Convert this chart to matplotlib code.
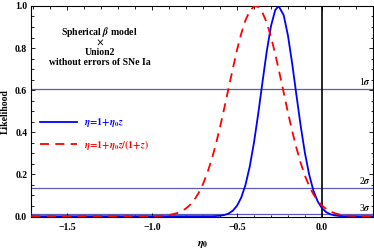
import matplotlib
matplotlib.use("Agg")
import matplotlib.pyplot as plt

plt.rcParams['font.family'] = ['Liberation Serif', 'DejaVu Serif']
plt.rcParams['font.weight'] = 'bold'
plt.rcParams['mathtext.fontset'] = 'stix'

# likelihood, eta = 1 + eta0 z
eta0_lin = [-1.71, -0.65, -0.625, -0.6, -0.575, -0.55, -0.525, -0.5, -0.475, -0.45,
            -0.425, -0.4, -0.375, -0.35, -0.325, -0.3, -0.275, -0.255, -0.225, -0.2,
            -0.175, -0.15, -0.125, -0.1, -0.075, -0.05, -0.025, 0.0, 0.025, 0.05,
            0.075, 0.1, 0.125, 0.15, 0.30]
like_lin = [0.0, 0.0004, 0.0011, 0.0026, 0.006, 0.0129, 0.0261, 0.0498, 0.0889, 0.149,
            0.236, 0.350, 0.487, 0.637, 0.783, 0.904, 0.980, 1.0, 0.956, 0.860,
            0.726, 0.576, 0.430, 0.301, 0.198, 0.122, 0.071, 0.0387, 0.0198, 0.0096,
            0.0043, 0.0018, 0.0007, 0.0003, 0.0]

# likelihood, eta = 1 + eta0 z/(1+z)
eta0_cpl = [-1.71, -1.0, -0.975, -0.95, -0.925, -0.9, -0.875, -0.85, -0.825, -0.8,
            -0.775, -0.75, -0.725, -0.7, -0.675, -0.65, -0.625, -0.6, -0.575, -0.55,
            -0.525, -0.5, -0.475, -0.45, -0.425, -0.4, -0.39, -0.375, -0.35, -0.325,
            -0.3, -0.275, -0.25, -0.225, -0.2, -0.175, -0.15, -0.125, -0.1, -0.075,
            -0.05, -0.025, 0.0, 0.025, 0.05, 0.075, 0.1, 0.125, 0.15, 0.175,
            0.2, 0.25, 0.30]
like_cpl = [0.0, 0.0007, 0.0013, 0.0022, 0.0037, 0.0062, 0.0101, 0.0160, 0.0248, 0.0375,
            0.0553, 0.0796, 0.112, 0.153, 0.205, 0.267, 0.340, 0.423, 0.513, 0.607,
            0.700, 0.790, 0.868, 0.932, 0.976, 0.998, 1.0, 0.996, 0.969, 0.921,
            0.854, 0.772, 0.682, 0.588, 0.494, 0.405, 0.325, 0.254, 0.193, 0.144,
            0.105, 0.0741, 0.0513, 0.0346, 0.0228, 0.0147, 0.0092, 0.0056, 0.0034, 0.0020,
            0.0011, 0.0003, 0.0]

sigma_levels = [0.6065, 0.1353, 0.0111]
sigma_labels = [r'1$\sigma$', r'2$\sigma$', r'3$\sigma$']

fig = plt.figure(figsize=(3.74, 2.49), dpi=100)
ax = fig.add_axes([0.084, 0.128, 0.913, 0.848])

for lev, lab in zip(sigma_levels, sigma_labels):
    ax.axhline(lev, color='#5c5cb8', lw=0.9, zorder=1)
    ax.annotate(lab, xy=(0.288, lev), xytext=(0, 1), textcoords='offset points',
                ha='right', va='bottom', fontsize=7, fontweight='normal')

ax.axvline(0.0, color='black', lw=1.2, zorder=2)

ax.plot(eta0_lin, like_lin, color='blue', lw=1.3, zorder=3,
        label=r'$\eta\!=\!1\!+\!\eta_0 z$')
ax.plot(eta0_cpl, like_cpl, color='red', lw=1.3, dashes=(5, 3.5), zorder=3,
        label=r'$\eta\!=\!1\!+\!\eta_0 z/(1\!+\!z)$')

leg = ax.legend(loc='upper left', bbox_to_anchor=(0.005, 0.51), frameon=False,
                fontsize=7, handlelength=3.8, handletextpad=0.7, labelspacing=0.85,
                borderpad=0.2)
for txt, col in zip(leg.get_texts(), ['blue', 'red']):
    txt.set_color(col)

title_lines = [r'Spherical $\beta$ model', r'$\times$', 'Union2',
               'without errors of SNe Ia']
for i, line in enumerate(title_lines):
    ax.text(0.2, 0.877 - 0.049 * i, line, transform=ax.transAxes, ha='center',
            va='center', fontsize=7, fontweight='bold')

ax.set_xlim(-1.71, 0.30)
ax.set_ylim(-0.004, 1.0)
ax.set_xticks([-1.5, -1.0, -0.5, 0.0])
ax.set_xticklabels(['\u22121.5', '\u22121.0', '\u22120.5', '0.0'])
ax.set_xticks([v / 10 for v in range(-17, 4)], minor=True)
ax.set_yticks([0.0, 0.2, 0.4, 0.6, 0.8, 1.0])
ax.set_yticks([v / 20 for v in range(0, 21)], minor=True)
ax.tick_params(which='both', direction='in', top=True, right=True,
               labelsize=7, width=0.6, pad=3)
ax.tick_params(axis='x', pad=4.5)
ax.tick_params(which='major', length=3)
ax.tick_params(which='minor', length=1.8)
for sp in ax.spines.values():
    sp.set_linewidth(0.8)

ax.set_xlabel(r'$\eta_0$', fontsize=8, labelpad=5)
ax.set_ylabel('Likelihood', fontsize=7, fontweight='bold', labelpad=4)

fig.savefig('out.png', dpi=100)
